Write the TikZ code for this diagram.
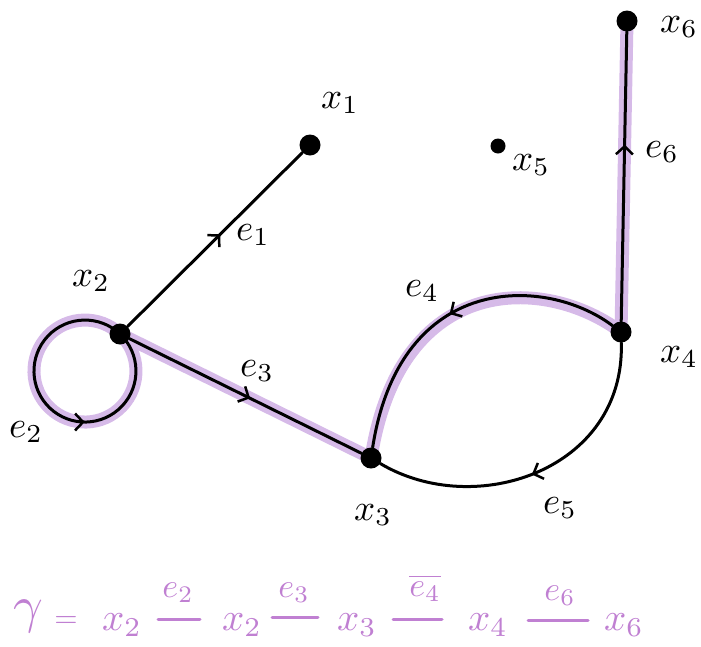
\documentclass[tikz,border=0pt]{standalone}
\usetikzlibrary{arrows.meta,decorations.markings}
\definecolor{hl}{RGB}{214,186,232}
\definecolor{fm}{RGB}{192,128,210}
\pgfdeclarelayer{bg}
\pgfsetlayers{bg,main}
\newcommand{\glab}[1]{\scalebox{3.7}{$#1$}}
\newcommand{\fmx}[1]{\scalebox{3.9}{$#1$}}
\newcommand{\fme}[1]{\scalebox{3.4}{$#1$}}
\begin{document}
\begin{tikzpicture}[x=1pt,y=1pt,
  dot/.style={circle,fill=black,inner sep=0,minimum size=21pt},
  smalldot/.style={circle,fill=black,inner sep=0,minimum size=15pt},
  edge/.style={line width=3pt,line cap=round},
  hlpath/.style={hl,line width=13pt,line cap=round},
  lab/.style={inner sep=0},
  flab/.style={inner sep=0,text=fm},
  fline/.style={fm,line width=3pt,line cap=round},
  midarrow/.style={postaction={decorate},decoration={markings,mark=at position #1 with {\arrow{Straight Barb[length=8pt,width=17pt,line width=2.5pt]}}}}
]
\useasboundingbox (0,0) rectangle (701,-646);

% vertices
\node[dot] (x1) at (310,-145) {};
\node[dot] (x2) at (120,-334) {};
\node[dot] (x3) at (371,-458) {};
\node[dot] (x4) at (621,-332) {};
\node[smalldot] (x5) at (498,-146) {};
\node[dot] (x6) at (627,-21) {};

% highlighted path
\begin{pgfonlayer}{bg}
\draw[hlpath] (x2.center) arc[start angle=46.6,end angle=406.6,radius=51];
\draw[hlpath] (x2.center) -- (x3.center);
\draw[hlpath] (x4.center) .. controls +(-76,57) and +(29,186) .. (x3.center);
\draw[hlpath] (x4.center) -- (x6.center);
\end{pgfonlayer}

% edges
\draw[edge,midarrow=0.53] (x2) -- (x1);
\draw[edge,midarrow=0.62] (x2.center) arc[start angle=46.6,end angle=406.6,radius=51];
\draw[edge,midarrow=0.52] (x2) -- (x3);
\draw[edge,midarrow=0.52] (x4) .. controls +(-76,57) and +(29,186) .. (x3);
\draw[edge,midarrow=0.52] (x4) .. controls +(4,-138) and +(104,-62) .. (x3);
\draw[edge,midarrow=0.61] (x4) -- (x6);

% vertex labels
\node[lab] (lx1) at (340,-103) {\glab{x_1}};
\node[lab] (lx2) at (91,-281) {\glab{x_2}};
\node[lab] (lx3) at (373,-515) {\glab{x_3}};
\node[lab] (lx4) at (679,-357) {\glab{x_4}};
\node[lab] (lx5) at (531,-165) {\glab{x_5}};
\node[lab] (lx6) at (679,-27) {\glab{x_6}};

% edge labels
\node[lab] (le1) at (253,-235) {\glab{e_1}};
\node[lab] (le2) at (26,-432) {\glab{e_2}};
\node[lab] (le3) at (257,-371) {\glab{e_3}};
\node[lab] (le4) at (422,-291) {\glab{e_4}};
\node[lab] (le5) at (560,-508) {\glab{e_5}};
\node[lab] (le6) at (662,-152) {\glab{e_6}};

% formula
\node[flab] (fg) at (28,-616) {\scalebox{5.2}{$\gamma$}};
\node[flab] (feq) at (66,-622) {\scalebox{3.0}{$=$}};
\node[flab] (fa) at (122,-625) {\fmx{x_2}};
\node[flab] (fb) at (242,-625) {\fmx{x_2}};
\node[flab] (fc) at (357,-625) {\fmx{x_3}};
\node[flab] (fd) at (488,-625) {\fmx{x_4}};
\node[flab] (ff) at (624,-625) {\fmx{x_6}};
\coordinate (l1a) at (158,-619); \coordinate (l1b) at (200,-619);
\coordinate (l2a) at (272,-617); \coordinate (l2b) at (318,-617);
\coordinate (l3a) at (393,-619); \coordinate (l3b) at (442,-619);
\coordinate (l4a) at (528,-620); \coordinate (l4b) at (588,-620);
\draw[fline] (l1a) -- (l1b);
\draw[fline] (l2a) -- (l2b);
\draw[fline] (l3a) -- (l3b);
\draw[fline] (l4a) -- (l4b);
\node[flab] (fe2) at (178,-593) {\fme{e_2}};
\node[flab] (fe3) at (294,-593) {\fme{e_3}};
\node[flab] (fe4) at (425,-588) {\fme{\overline{e_4}}};
\node[flab] (fe6) at (560,-596) {\fme{e_6}};
\end{tikzpicture}
\end{document}
